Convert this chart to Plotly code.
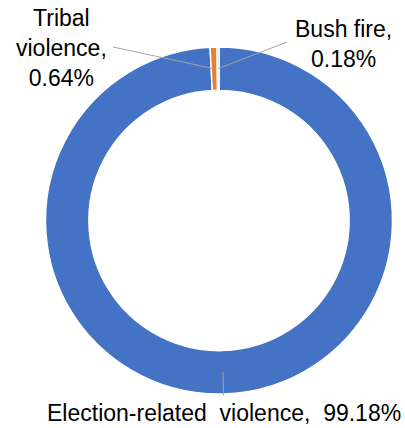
import math
import plotly.graph_objects as go

categories = ["Election-related violence", "Tribal violence", "Bush fire"]
values = [99.18, 0.64, 0.18]
colors = ["#4472C4", "#ED7D31", "#A5A5A5"]
label_texts = ["Election-related\u00a0\u00a0violence,\u00a0\u00a099.18%",
               "Tribal<br>violence,<br>0.64%",
               "Bush fire,<br>0.18%"]

W, H = 405, 428
cx, cy, R = 219.0, 220.5, 173.5
hole = 0.75

fig = go.Figure(go.Pie(
    labels=categories, values=values, sort=False, direction="clockwise", rotation=0,
    hole=hole, textinfo="none", hoverinfo="skip", showlegend=False,
    marker=dict(colors=colors, line=dict(color="white", width=1.5)),
    domain=dict(x=[(cx - R) / W, (cx + R) / W], y=[(H - cy - R) / H, (H - cy + R) / H]),
))

total = sum(values)
cum = 0
mid_angles = []
for v in values:
    mid_angles.append((cum + v / 2) / total * 2 * math.pi)
    cum += v

def pt(angle, r):
    x = cx + r * math.sin(angle)
    y = cy - r * math.cos(angle)
    return x / W, 1 - y / H

rmid = R * (1 + hole) / 2
# label anchor points (px) for each category
label_pos = [(224, 413), (61, 48), (343, 44)]
line_ends = [None, (113, 47), (287, 42)]

shapes = []
for i, a in enumerate(mid_angles):
    x0, y0 = pt(a, rmid)
    if line_ends[i] is None:
        x1, y1 = pt(a, R + 1.5)
    else:
        x1, y1 = line_ends[i][0] / W, 1 - line_ends[i][1] / H
    shapes.append(dict(type="line", xref="paper", yref="paper", x0=x0, y0=y0, x1=x1, y1=y1,
                       line=dict(color="#A6A6A6", width=1)))

annotations = []
for i, t in enumerate(label_texts):
    lx, ly = label_pos[i]
    annotations.append(dict(text=t, x=lx / W, y=1 - ly / H, xref="paper", yref="paper",
                            xanchor="center", yanchor="middle", showarrow=False, align="center",
                            font=dict(family="Liberation Sans, Arial, sans-serif", size=23, color="#000000")))

fig.update_layout(width=W, height=H, margin=dict(l=0, r=0, t=0, b=0),
                  paper_bgcolor="white", plot_bgcolor="white",
                  shapes=shapes, annotations=annotations)
fig.write_html("out.html")
